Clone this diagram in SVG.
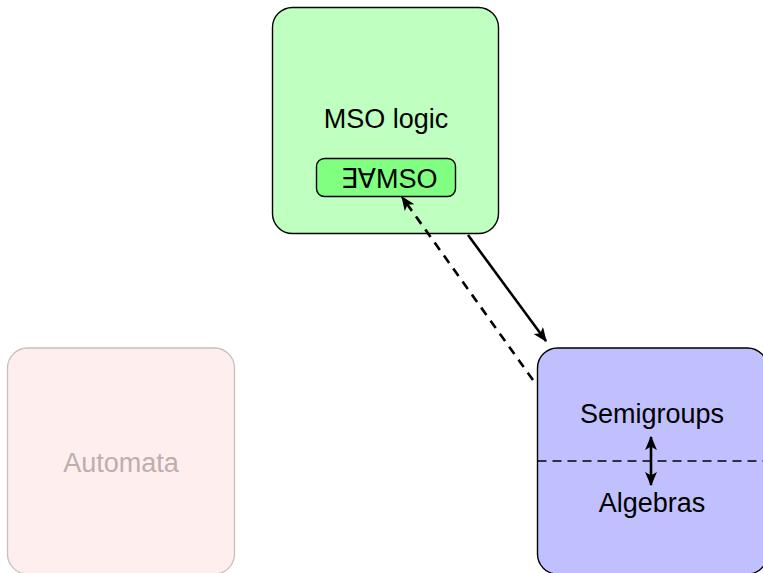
<svg xmlns="http://www.w3.org/2000/svg" width="763" height="573" viewBox="0 0 763 573">
<defs>
<style>
text{font-family:"Liberation Sans","DejaVu Sans",Arial,sans-serif;font-size:27px;text-anchor:middle;fill:#000}
.box{stroke:#000;stroke-width:1.4}
.edge{fill:none;stroke:#000;stroke-width:2.6}
</style>
<marker id="ah" viewBox="0 0 12 10" refX="11" refY="5" markerWidth="5.5" markerHeight="4.6" orient="auto-start-reverse" markerUnits="strokeWidth">
<path d="M0,0 L12,5 L0,10 L3,5 Z" fill="#000"/>
</marker>
</defs>
<rect width="763" height="573" fill="#fff"/>
<g id="automata">
<rect x="7.5" y="348" width="227" height="226" rx="20" fill="#ffeeee" stroke="#c4c0c0" stroke-width="1.3"/>
<text x="121" y="472" style="fill:#bbafaf">Automata</text>
</g>
<g id="mso">
<rect class="box" x="272.5" y="7.5" width="226" height="226" rx="20" fill="#bfffbf"/>
<text x="386" y="128">MSO logic</text>
</g>
<g id="emso">
<rect class="box" x="316.5" y="158.5" width="139" height="38" rx="8" fill="#80ff80"/>
<text x="389" y="188">∃∀MSO</text>
</g>
<g id="alg">
<rect class="box" x="537.5" y="348" width="230" height="226" rx="20" fill="#c0c0ff"/>
<line x1="537.5" y1="461" x2="763" y2="461" stroke="#000" stroke-width="1.4" stroke-dasharray="9 6"/>
<text x="652" y="423">Semigroups</text>
<text x="652" y="512">Algebras</text>
</g>
<g id="connectors">
<line class="edge" x1="468" y1="235" x2="546" y2="341" marker-end="url(#ah)"/>
<line class="edge" x1="533" y1="380" x2="402" y2="197" stroke-dasharray="9 7" marker-end="url(#ah)"/>
<line class="edge" x1="651" y1="437" x2="651" y2="485" marker-start="url(#ah)" marker-end="url(#ah)"/>
</g>
</svg>
